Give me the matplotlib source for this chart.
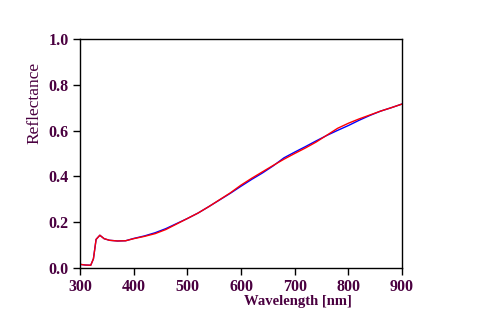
import matplotlib
matplotlib.use("Agg")
import matplotlib.pyplot as plt

# Reflectance spectra (wavelength in nm)
wavelength = [300, 310, 320, 325, 330, 337, 345, 355, 370, 385, 400, 420, 440,
              460, 480, 500, 520, 540, 560, 580, 600, 620, 640, 660, 680, 700,
              720, 740, 760, 780, 800, 820, 840, 860, 880, 900]
measured = [0.016, 0.013, 0.012, 0.040, 0.125, 0.143, 0.128, 0.121, 0.118,
            0.119, 0.128, 0.138, 0.150, 0.168, 0.192, 0.216, 0.240, 0.268,
            0.298, 0.328, 0.362, 0.392, 0.420, 0.448, 0.475, 0.500, 0.524,
            0.550, 0.580, 0.610, 0.632, 0.651, 0.668, 0.685, 0.700, 0.716]
fitted = [0.016, 0.013, 0.012, 0.040, 0.125, 0.143, 0.128, 0.121, 0.118,
          0.119, 0.129, 0.140, 0.154, 0.172, 0.194, 0.216, 0.240, 0.268,
          0.297, 0.326, 0.357, 0.387, 0.415, 0.446, 0.481, 0.506, 0.530,
          0.555, 0.579, 0.601, 0.622, 0.645, 0.666, 0.685, 0.700, 0.716]

x_ticks = [300, 400, 500, 600, 700, 800, 900]
y_ticks = [0.0, 0.2, 0.4, 0.6, 0.8, 1.0]

text_color = "#4a0040"

fig = plt.figure(figsize=(4.79, 3.23), dpi=100)
ax = fig.add_axes([80 / 479, 1 - 268 / 323, 322 / 479, 229 / 323])

ax.plot(wavelength, fitted, color="#0000ff", lw=1.0)
ax.plot(wavelength, measured, color="#ff0000", lw=1.0)

ax.set_xlim(300, 900)
ax.set_ylim(0.0, 1.0)
ax.set_xticks(x_ticks)
ax.set_yticks(y_ticks)
ax.set_xticklabels([str(v) for v in x_ticks])
ax.set_yticklabels([f"{v:.1f}" for v in y_ticks])

for spine in ax.spines.values():
    spine.set_linewidth(1.0)
    spine.set_color("black")

ax.tick_params(direction="out", length=5, width=1.0, colors="black",
               labelcolor=text_color, labelsize=11.5, pad=3)
for lab in ax.get_xticklabels() + ax.get_yticklabels():
    lab.set_fontfamily("Liberation Serif")
    lab.set_fontweight("bold")

ax.set_xlabel("Wavelength [nm]", fontfamily="Liberation Serif",
              fontweight="bold", fontsize=10.5, color=text_color)
ax.xaxis.set_label_coords(0.677, -0.118)
ax.set_ylabel("Reflectance", fontfamily="Liberation Serif",
              fontsize=12.5, color=text_color)
ax.yaxis.set_label_coords(-0.118, 0.72)

fig.savefig("out.png", dpi=100)
